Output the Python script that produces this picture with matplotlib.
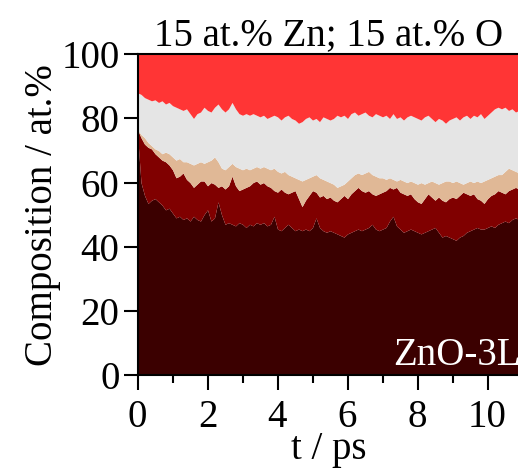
#!/usr/bin/env python3

import numpy as np
import matplotlib
matplotlib.use("Agg")
import matplotlib.pyplot as plt
from matplotlib.ticker import MultipleLocator

# ==========================
# DATA (cumulative boundaries, at.%)
# ==========================
t_ps = np.round(np.arange(0, 110) * 0.1, 1)

# top of darkest layer
b1 = [75, 60, 56, 53.5, 54.5, 55, 54, 53, 51.5, 52,
      50.5, 49, 49.5, 48.5, 49, 48, 49.5, 48.5, 48, 50,
      51.5, 48, 49, 54, 50, 47, 47.5, 47, 46.5, 47.5,
      47, 46, 47, 46.5, 47.5, 47, 47.5, 46.5, 47, 49.5,
      45.5, 45, 46, 47, 46, 45, 45.5, 45, 45.5, 45,
      46, 49, 46, 45, 44.5, 45, 44.5, 44, 43.5, 43,
      44, 44.5, 45, 45.5, 45, 45.5, 46, 47, 45.5, 45,
      45.5, 46, 48, 49.5, 46.5, 45.5, 44.5, 45, 45.5, 45,
      44.5, 44, 44.5, 45, 45.5, 46, 44.5, 43, 43.5, 43,
      42.5, 42, 43, 43.5, 44.5, 45, 45.5, 46, 45.5, 45.5,
      46, 46.5, 46, 47, 47.5, 48, 47.5, 48.5, 49, 48.5]

# top of dark red layer
b2 = [76.5, 74, 72, 71, 70.5, 69, 68, 67, 66.5, 65.5,
      64, 61.5, 62, 63, 61, 60, 58.5, 59.5, 60.5, 60.5,
      59, 60, 59.5, 58.5, 59, 58, 59, 62, 59, 57.5,
      58, 58.5, 59, 60, 60.5, 59.5, 60, 59, 58.5, 57.5,
      57, 58, 57, 56.5, 57, 57.5, 55, 52.5, 54.5, 56,
      57.5, 57, 55.5, 56, 55, 55.5, 54.5, 54, 55, 56,
      55, 56.5, 57.5, 58.5, 57.5, 57, 57.5, 56.5, 56, 56.5,
      57, 57.5, 58.5, 58, 58.5, 57, 56.5, 56, 56.5, 55,
      54, 53.5, 55, 56.5, 55.5, 54.5, 55.5, 54.5, 54, 55,
      55.5, 55, 56, 57, 56.5, 56, 56.5, 55, 54.5, 53.5,
      55, 56, 56.5, 57.5, 57, 56.5, 57.5, 58, 58.5, 58]

# top of tan layer
b3 = [76.5, 75, 74, 72.5, 71.5, 70.5, 70, 69, 69.5, 69,
      68, 67, 67.5, 66.5, 66.5, 66, 65.5, 66, 66.5, 66,
      66.5, 67, 68, 66.5, 64.5, 64, 65, 66, 65, 64.5,
      64, 64.5, 64, 64.5, 65, 64.5, 65, 64.5, 64, 64.5,
      63.5, 63, 63.5, 62.5, 62, 61.5, 61, 60.5, 61, 61.5,
      62, 62.5, 61.5, 61, 60.5, 60, 59.5, 58.5, 59, 59.5,
      60.5, 61.5, 62.5, 63, 62.5, 63, 63.5, 62.5, 62, 61.5,
      61.5, 61, 61.5, 61, 60.5, 61, 60.5, 60, 60.5, 60,
      59.5, 60, 59.5, 60, 60.5, 60, 59.5, 60, 60.5, 60.5,
      60, 60.5, 60, 59.5, 60, 60.5, 60, 60.5, 60, 60.5,
      61, 61.5, 62, 62.5, 62.5, 63.5, 64.5, 64, 63.5, 63]

# top of light grey layer (red above up to 100)
b4 = [88, 87.5, 86.5, 86, 85.5, 85.8, 85, 85.5, 84.5, 85,
      84, 83.5, 83, 82.5, 83, 81.5, 80, 81.5, 82, 83.5,
      82.5, 82, 83.5, 84.5, 83, 82, 83, 85, 83, 81.5,
      81, 81.5, 81, 81.5, 81, 80.5, 81, 80, 80.5, 81,
      80.5, 79.5, 80.5, 81, 80, 79.5, 78.5, 79, 80, 80.5,
      79.5, 80, 79, 80.5, 80, 79.5, 80, 81, 80.5, 81,
      80, 81.5, 82, 81, 81.5, 82, 81, 80.5, 81.5, 81,
      80.5, 81, 80, 81.5, 80, 80.5, 79.5, 80.5, 81, 80.5,
      80, 79.5, 80.5, 81, 80, 79, 80, 79.5, 78.5, 79.5,
      80, 80.5, 79.5, 80.5, 81, 80, 81, 80.5, 81.5, 80,
      81, 82, 83, 83.5, 83, 83.5, 82.5, 83, 82, 82.5]

# ==========================
# STYLE
# ==========================
C_DARKEST = "#3b0000"
C_DARKRED = "#800000"
C_TAN     = "#e0b896"
C_GREY    = "#e5e5e5"
C_RED     = "#ff3535"

FONT_SIZE  = 28
SPINE_W    = 1.5

plt.rcParams["font.family"] = ["Liberation Serif", "DejaVu Serif"]

# ==========================
# FIGURE
# ==========================
fig = plt.figure(figsize=(5.18, 4.69), dpi=100)
ax = fig.add_axes([137.5 / 518, 94 / 469, 382 / 518, 320.7 / 469])

ax.fill_between(t_ps, 0, b1, color=C_DARKEST, lw=0)
ax.fill_between(t_ps, b1, b2, color=C_DARKRED, lw=0)
ax.fill_between(t_ps, b2, b3, color=C_TAN, lw=0)
ax.fill_between(t_ps, b3, b4, color=C_GREY, lw=0)
ax.fill_between(t_ps, b4, 100, color=C_RED, lw=0)

ax.set_xlim(0, 382 / 35.0)
ax.set_ylim(0, 100)

ax.xaxis.set_major_locator(MultipleLocator(2))
ax.xaxis.set_minor_locator(MultipleLocator(1))
ax.yaxis.set_major_locator(MultipleLocator(20))

ax.tick_params(axis="x", which="major", direction="out", length=11,
               width=SPINE_W, labelsize=FONT_SIZE, pad=6)
ax.tick_params(axis="x", which="minor", direction="out", length=6,
               width=SPINE_W)
ax.tick_params(axis="y", which="major", direction="out", length=10,
               width=SPINE_W, labelsize=FONT_SIZE, pad=3)

for spine in ax.spines.values():
    spine.set_linewidth(SPINE_W)

ax.set_xlabel("t / ps", fontsize=FONT_SIZE, labelpad=-3)
ax.set_ylabel("Composition / at.%", fontsize=FONT_SIZE, labelpad=0)
ax.set_title("15 at.% Zn; 15 at.% O", fontsize=FONT_SIZE, pad=4)

ax.text(10.95, 3.1, "ZnO-3L", color="white", fontsize=28,
        ha="right", va="baseline")

fig.savefig("out.png", dpi=100)
plt.close(fig)
